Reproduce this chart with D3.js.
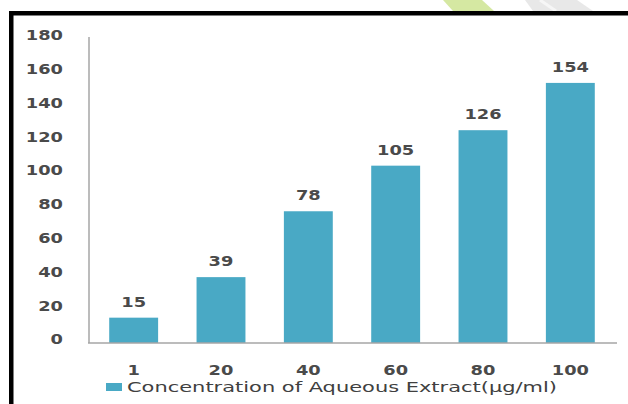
<!DOCTYPE html>
<html><head><meta charset="utf-8">
<script src="https://cdn.jsdelivr.net/npm/d3@7"></script>
<style>body{margin:0;background:#fff}svg{display:block}</style>
</head><body>
<script>
const categories = ["1", "20", "40", "60", "80", "100"];
const values = [15, 39, 78, 105, 126, 154];
const yTicks = [0, 20, 40, 60, 80, 100, 120, 140, 160, 180];
const seriesName = "Concentration of Aqueous Extract(\u00b5g/ml)";

const W = 628, H = 404;
const barColor = "#49a9c5";
const textColor = "#4a4a4a";
const axisColor = "#a6a6a6";
const font = "DejaVu Sans, Verdana, sans-serif";
const sx = 1.32;
const numSize = "13.5px";

const svg = d3.select("body").append("svg").attr("width", W).attr("height", H);

// watermark fragments above the frame
svg.append("polygon").attr("points", "443,0 482,0 494,11 453,11").attr("fill", "#d5e8a2");
svg.append("polygon").attr("points", "525,0 577,0 593,11 533,11").attr("fill", "#e8e8e8");
svg.append("line").attr("x1", 540).attr("y1", 0).attr("x2", 556).attr("y2", 11)
  .attr("stroke", "#f6f6f6").attr("stroke-width", 3);

// black frame (top + left)
svg.append("rect").attr("x", 9).attr("y", 11).attr("width", W - 9).attr("height", 4.5).attr("fill", "#000");
svg.append("rect").attr("x", 9).attr("y", 11).attr("width", 4.5).attr("height", H - 11).attr("fill", "#000");

const x = d3.scaleBand().domain(categories).range([90, 614]).paddingInner(0.44).paddingOuter(0.22);
const y = d3.scaleLinear().domain([0, 180]).range([343, 39]);

// bars
svg.selectAll("rect.bar").data(values).enter().append("rect")
  .attr("class", "bar")
  .attr("x", (d, i) => x(categories[i]))
  .attr("y", d => y(d))
  .attr("width", x.bandwidth())
  .attr("height", d => y(0) - y(d))
  .attr("fill", barColor);

// axis lines
svg.append("line").attr("x1", 89).attr("x2", 89).attr("y1", 37).attr("y2", y(0))
  .attr("stroke", axisColor).attr("stroke-width", 1.5);
svg.append("line").attr("x1", 88).attr("x2", 617).attr("y1", y(0)).attr("y2", y(0))
  .attr("stroke", axisColor).attr("stroke-width", 1.5);

// y axis labels
const yAxis = svg.append("g").attr("transform", "translate(63,0)")
  .call(d3.axisLeft(y).tickValues(yTicks).tickSize(0).tickPadding(0));
yAxis.select(".domain").remove();
yAxis.selectAll("text")
  .attr("x", 0).attr("y", -4).attr("dy", "0.36em")
  .attr("transform", `scale(${sx},1)`)
  .attr("fill", textColor).style("font-family", font).style("font-size", numSize).style("font-weight", "bold");

// x axis labels
const xAxis = svg.append("g").attr("transform", "translate(0,370)")
  .call(d3.axisBottom(x).tickSize(0).tickPadding(0));
xAxis.select(".domain").remove();
xAxis.selectAll("text")
  .attr("y", 0).attr("dy", "0.36em")
  .attr("transform", `scale(${sx},1)`)
  .attr("fill", textColor).style("font-family", font).style("font-size", numSize).style("font-weight", "bold");

// value labels
svg.selectAll("text.val").data(values).enter().append("text")
  .attr("class", "val")
  .attr("transform", (d, i) => `translate(${x(categories[i]) + x.bandwidth() / 2},${y(d) - 16}) scale(${sx},1)`)
  .attr("dy", "0.36em")
  .attr("text-anchor", "middle")
  .attr("fill", textColor).style("font-family", font).style("font-size", numSize).style("font-weight", "bold")
  .text(d => d);

// legend
const lg = svg.append("g");
lg.append("rect").attr("x", 106).attr("y", 383).attr("width", 16).attr("height", 8).attr("fill", barColor);
lg.append("text").attr("x", 127).attr("y", 387).attr("dy", "0.36em")
  .attr("textLength", 430).attr("lengthAdjust", "spacingAndGlyphs")
  .attr("fill", "#404040").style("font-family", font).style("font-size", "14px")
  .text(seriesName);
</script>
</body></html>
